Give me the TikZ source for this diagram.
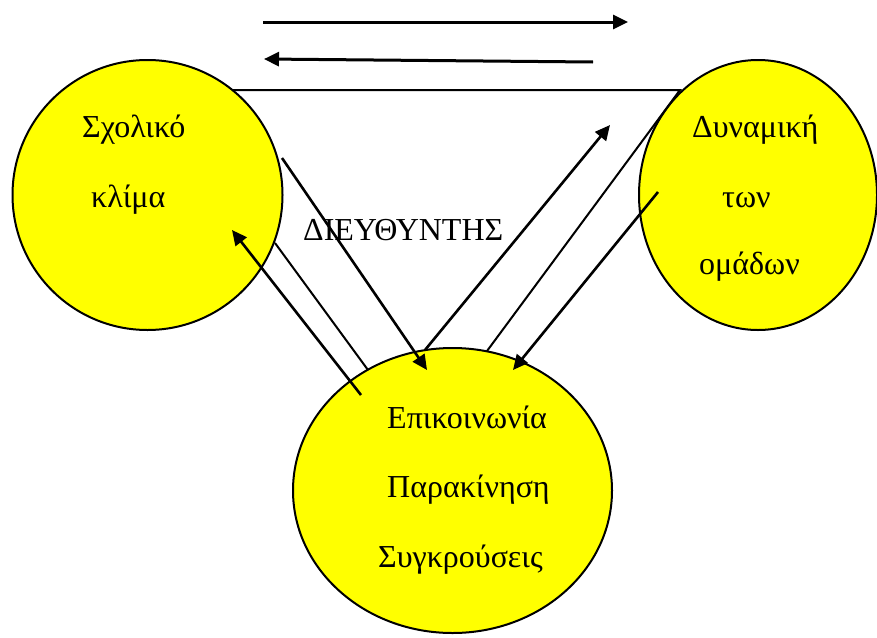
\documentclass[tikz,border=0pt]{standalone}
\usepackage{fontspec}
\setmainfont{Liberation Serif}
\usepackage{tikz}
\usetikzlibrary{calc, arrows.meta}
\usepackage{tkz-euclide}

\definecolor{circyellow}{RGB}{255,255,0}
\tikzset{
  ball/.style={draw=black, line width=2pt, fill=circyellow},
  arrowline/.style={black, line width=2.6pt, -{Triangle[length=15pt,width=14pt]}},
  toparrow/.style={arrowline, line width=3pt},
  plainline/.style={black, line width=2pt},
  lbl/.style={inner sep=0pt, anchor=base west, font=\fontsize{32}{38}\selectfont}
}

\begin{document}
\begin{tikzpicture}[x=1pt, y=-1pt]
                \useasboundingbox (0,0) rectangle (877,637);
                % centres of the three balls
                \tkzDefPoints{147.5/195/K, 758/195/D, 452.5/490.5/E}
                \draw[ball] (K) circle [radius=135];
                \draw[ball] (D) ellipse [x radius=119, y radius=135];
                \draw[ball] (E) ellipse [x radius=159.5, y radius=142.5];
                % ends of the lines
                \tkzDefPoints{263/22/A1, 628/22/A2, 593/62/B1, 264/59/B2}
                \tkzDefPoints{232/90/P1, 680/90/P2, 487/351/P3}
                \tkzDefPoints{282/158/C1, 427/370/C2, 275/243/L1, 368/370/L2}
                \tkzDefPoints{361/395/R1, 232/230/R2, 425/350/F1, 610/125/F2}
                \tkzDefPoints{658/192/G1, 513/370/G2}
                \draw[toparrow] (A1) -- (A2);
                \draw[toparrow] (B1) -- (B2);
                \draw[plainline] (P1) -- (P2) -- (P3);
                \draw[plainline] (L1) -- (L2);
                \foreach \s/\e in {C1/C2, R1/R2, F1/F2, G1/G2}
                  \draw[arrowline] (\s) -- (\e);
                % texts
                \node[lbl] (scholiko) at (82,137) {Σχολικό};
                \node[lbl] (klima) at (91,207) {κλίμα};
                \node[lbl] (dynamiki) at (692,137) {Δυναμική};
                \node[lbl] (ton) at (722,207) {των};
                \node[lbl] (omadon) at (699,274) {ομάδων};
                \node[lbl] (diefthyntis) at (303,240) {ΔΙΕΥΘΥΝΤΗΣ};
                \node[lbl] (epikoinonia) at (387,428) {Επικοινωνία};
                \node[lbl] (parakinisi) at (387,497) {Παρακίνηση};
                \node[lbl] (sygkrouseis) at (378,567) {Συγκρούσεις};
            \end{tikzpicture}
\end{document}
